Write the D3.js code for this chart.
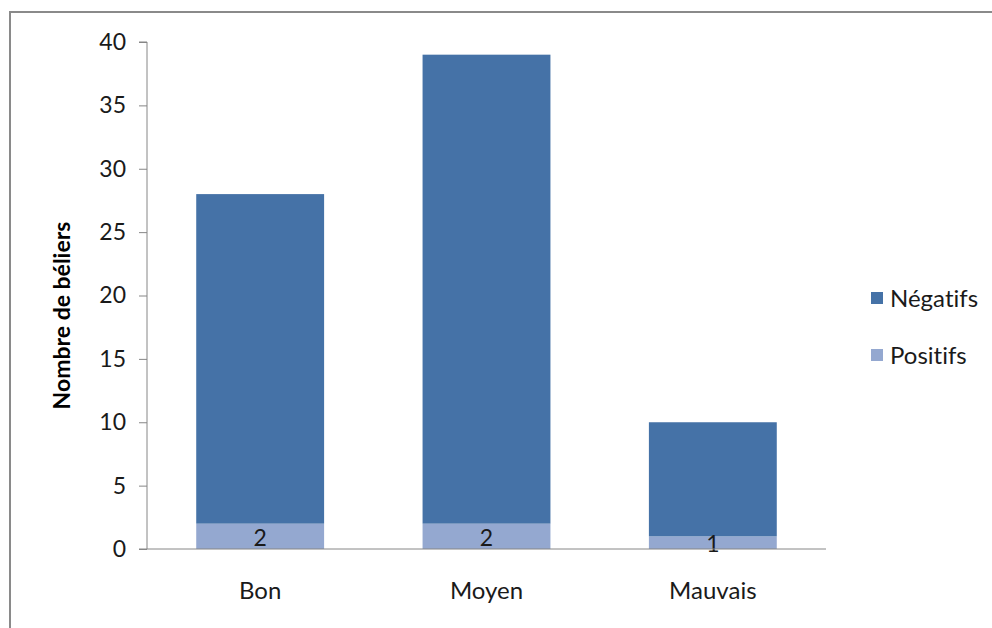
<!DOCTYPE html>
<html>
<head>
<meta charset="utf-8">
<script src="https://cdn.jsdelivr.net/npm/d3@7"></script>
<style>
  html, body { margin: 0; padding: 0; background: #fff; }
  svg { display: block; font-family: Lato, "Open Sans", sans-serif; font-variant-ligatures: none; }
</style>
</head>
<body>
<svg id="chart" width="992" height="628"></svg>
<script>
// Category labels and counts per serological status
const categories = ["Bon", "Moyen", "Mauvais"];
const positifs = [2, 2, 1];
const negatifs = [26, 37, 9];
const seriesNames = ["Positifs", "Négatifs"];
const yTicks = [0, 5, 10, 15, 20, 25, 30, 35, 40];

const colors = { "Négatifs": "#4572a7", "Positifs": "#94a8d0" };
const font = "Lato, 'Open Sans', sans-serif";

const svg = d3.select("#chart");

// Outer chart frame
svg.append("rect")
  .attr("x", 10).attr("y", 12)
  .attr("width", 1000).attr("height", 640)
  .attr("fill", "none").attr("stroke", "#8a8a8a").attr("stroke-width", 2);

const plot = { left: 147, right: 826, top: 42, bottom: 549 };

const x = d3.scaleBand()
  .domain(categories)
  .range([plot.left, plot.right])
  .paddingInner(0.435)
  .paddingOuter(0.2175);

const y = d3.scaleLinear().domain([0, 40]).range([plot.bottom, plot.top]);

const rows = categories.map((c, i) => ({ cat: c, "Positifs": positifs[i], "Négatifs": negatifs[i] }));
const stacked = d3.stack().keys(seriesNames)(rows);

const g = svg.append("g");

stacked.forEach(layer => {
  g.append("g").selectAll("rect")
    .data(layer)
    .join("rect")
    .attr("x", d => x(d.data.cat))
    .attr("width", x.bandwidth())
    .attr("y", d => y(d[1]))
    .attr("height", d => y(d[0]) - y(d[1]))
    .attr("fill", colors[layer.key]);
});

// Value labels on the positive segments
const posLayer = stacked[0];
g.append("g").selectAll("text")
  .data(posLayer)
  .join("text")
  .attr("x", d => x(d.data.cat) + x.bandwidth() / 2)
  .attr("y", d => (y(d[0]) + y(d[1])) / 2)
  .attr("dy", "0.4em")
  .attr("text-anchor", "middle")
  .attr("font-size", 23)
  .attr("fill", "#1a1a1a")
  .text(d => d[1] - d[0]);

// Y axis
const yAxis = d3.axisLeft(y).tickValues(yTicks).tickSize(8).tickPadding(13);
const yG = svg.append("g").attr("transform", `translate(${plot.left},0)`).call(yAxis);
yG.select(".domain").attr("stroke", "#868686").attr("d", `M-8,${plot.top}H0V${plot.bottom}`);
yG.selectAll(".tick line").attr("stroke", "#868686");
yG.selectAll(".tick text").attr("font-size", 23).attr("fill", "#1a1a1a")
  .attr("font-family", font);

// X axis
const xAxis = d3.axisBottom(x).tickSize(0).tickPadding(33);
const xG = svg.append("g").attr("transform", `translate(0,${plot.bottom})`).call(xAxis);
xG.select(".domain").attr("stroke", "#868686").attr("d", `M${plot.left - 8},0H${plot.right}`);
xG.selectAll(".tick text").attr("font-size", 24).attr("fill", "#1a1a1a")
  .attr("font-family", font);

// Axis title
svg.append("text")
  .attr("transform", `translate(70,${(plot.top + plot.bottom) / 2 + 20}) rotate(-90)`)
  .attr("text-anchor", "middle")
  .attr("font-size", 23)
  .attr("font-weight", "bold")
  .attr("fill", "#000")
  .text("Nombre de béliers");

// Legend
const legendItems = ["Négatifs", "Positifs"];
const lg = svg.append("g").attr("transform", "translate(871,292)");
legendItems.forEach((name, i) => {
  const row = lg.append("g").attr("transform", `translate(0,${i * 57})`);
  row.append("rect").attr("width", 12).attr("height", 12).attr("fill", colors[name]);
  row.append("text")
    .attr("x", 19).attr("y", 6).attr("dy", "0.36em")
    .attr("font-size", 24).attr("fill", "#1a1a1a")
    .text(name);
});
</script>
</body>
</html>
